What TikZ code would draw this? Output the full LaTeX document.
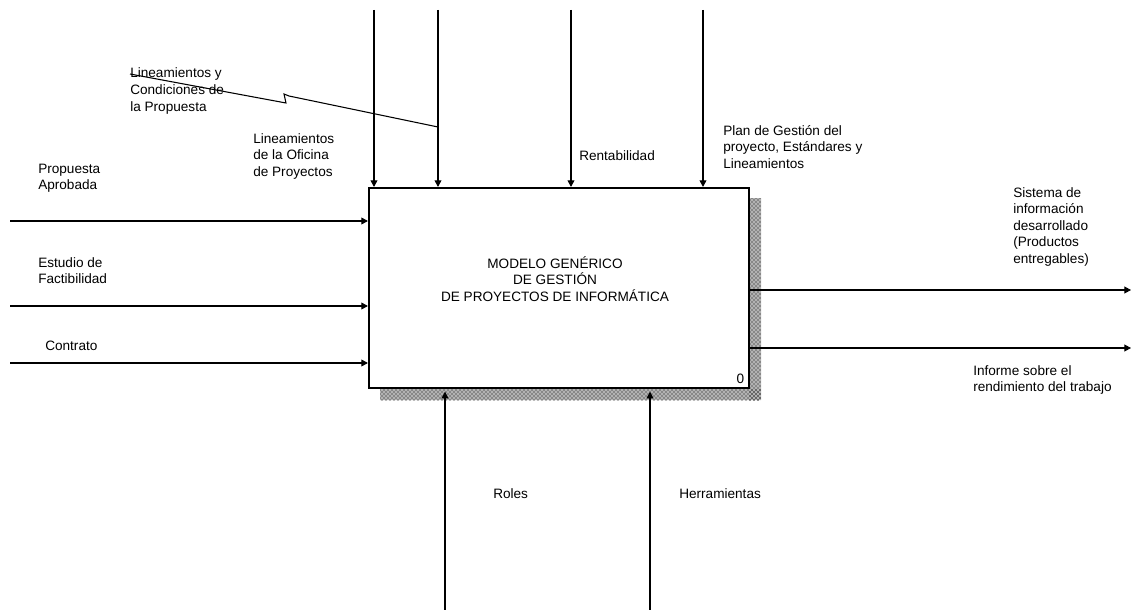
\documentclass[tikz,border=0pt]{standalone}
\usepackage{fontspec}
\setmainfont{Liberation Sans}
\usetikzlibrary{arrows.meta,patterns}
% multi-line label blocks whose baseline is that of the first line
\newcommand\txtleft[1]{\begin{tabular}[t]{@{}l@{}}#1\end{tabular}}
\newcommand\txtcenter[1]{\begin{tabular}[t]{@{}c@{}}#1\end{tabular}}
\begin{document}
\begin{tikzpicture}[x=0.75pt,y=-0.75pt,
  lbl/.style={anchor=base west, inner sep=0pt, font=\fontsize{10.2}{12.4}\selectfont},
  lblc/.style={anchor=base, inner sep=0pt, font=\fontsize{10.2}{12.4}\selectfont},
  flow/.style={line width=0.8pt, -{Triangle[length=5pt,width=5.2pt]}},
  plain/.style={line width=0.8pt},
  activity/.style={draw, line width=1.6pt, fill=white, minimum width=285pt,
    minimum height=150pt, inner sep=0pt},
  shadebase/.style={fill=black!30},
  shade/.style={pattern=crosshatch dots, pattern color=black}]
\useasboundingbox (0,0) rectangle (1131,610);

% drop shadow of the activity box
\fill[shadebase] (749,198) rectangle (761,400) (380,389) rectangle (749,400);
\fill[shade] (749,198) rectangle (761,400);
\fill[shade] (380,389) rectangle (761,400);

% activity box
\node[activity] (box) at (559,288) {};
\node[lblc] (title) at (555,268) {\txtcenter{MODELO GENÉRICO\\DE GESTIÓN\\DE PROYECTOS DE INFORMÁTICA}};
\node[lblc] (num) at (740.5,383) {0};

% free ends of the connectors
\coordinate (c1) at (374,10);
\coordinate (c2) at (438,10);
\coordinate (c3) at (571,10);
\coordinate (c4) at (703,10);
\coordinate (i1) at (10,221);
\coordinate (i2) at (10,306);
\coordinate (i3) at (10,363);
\coordinate (o1) at (1131,290);
\coordinate (o2) at (1131,348);
\coordinate (m1) at (445,610);
\coordinate (m2) at (650,610);
\coordinate (s0) at (130,74);
\coordinate (j) at (438,127);

% controls
\draw[flow] (c1) -- (c1 |- box.north);
\draw[flow] (c2) -- (c2 |- box.north);
\draw[flow] (c3) -- (c3 |- box.north);
\draw[flow] (c4) -- (c4 |- box.north);
% control branch joining the second control arrow
\draw[plain] (s0) -- (286,103) -- (284,94) -- (289,96) -- (j);

% inputs
\draw[flow] (i1) -- (i1 -| box.west);
\draw[flow] (i2) -- (i2 -| box.west);
\draw[flow] (i3) -- (i3 -| box.west);

% outputs
\draw[flow] (o1 -| box.east) -- (o1);
\draw[flow] (o2 -| box.east) -- (o2);

% mechanisms
\draw[flow, shorten >=2pt] (m1) -- (m1 |- box.south);
\draw[flow, shorten >=2pt] (m2) -- (m2 |- box.south);

% labels
\node[lbl] (lcond) at (130,78) {\txtleft{Lineamientos y\\Condiciones de\\la Propuesta}};
\node[lbl] (lofic) at (253,143) {\txtleft{Lineamientos\\de la Oficina\\de Proyectos}};
\node[lbl] (lrent) at (579,160) {Rentabilidad};
\node[lbl] (lplan) at (723,135) {\txtleft{Plan de Gestión del\\proyecto, Estándares y\\Lineamientos}};
\node[lbl] (lprop) at (38,173) {\txtleft{Propuesta\\Aprobada}};
\node[lbl] (lestu) at (38,267) {\txtleft{Estudio de\\Factibilidad}};
\node[lbl] (lcont) at (45,350) {Contrato};
\node[lbl] (lsist) at (1013,197) {\txtleft{Sistema de\\información\\desarrollado\\(Productos\\entregables)}};
\node[lbl] (linfo) at (973,375) {\txtleft{Informe sobre el\\rendimiento del trabajo}};
\node[lbl] (lrole) at (493,498) {Roles};
\node[lbl] (lherr) at (679,498) {Herramientas};
\end{tikzpicture}
\end{document}
